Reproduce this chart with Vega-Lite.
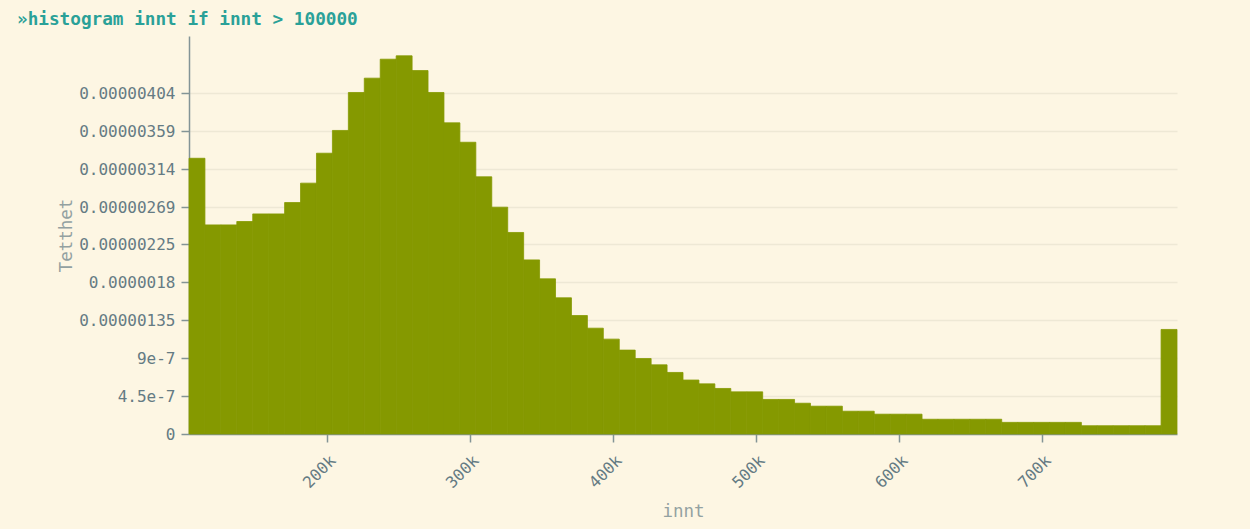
{
  "$schema": "https://vega.github.io/schema/vega-lite/v6.json",
  "autosize": "none",
  "width": 988,
  "height": 398,
  "padding": {"left": 189, "top": 36, "right": 73, "bottom": 95},
  "background": "#fdf6e3",
  "title": {
    "text": "»histogram innt if innt > 100000",
    "anchor": "start",
    "frame": "group",
    "dx": -172,
    "dy": 18,
    "offset": 11,
    "baseline": "alphabetic",
    "font": "DejaVu Sans Mono",
    "fontSize": 17.7,
    "fontWeight": "bold",
    "color": "#2aa198"
  },
  "data": {
    "values": [
      {"start": 103500, "end": 114640, "density": 3.27e-6},
      {"start": 114640, "end": 125780, "density": 2.48e-6},
      {"start": 125780, "end": 136920, "density": 2.48e-6},
      {"start": 136920, "end": 148060, "density": 2.52e-6},
      {"start": 148060, "end": 159200, "density": 2.61e-6},
      {"start": 159200, "end": 170340, "density": 2.61e-6},
      {"start": 170340, "end": 181480, "density": 2.745e-6},
      {"start": 181480, "end": 192620, "density": 2.975e-6},
      {"start": 192620, "end": 203760, "density": 3.33e-6},
      {"start": 203760, "end": 214900, "density": 3.6e-6},
      {"start": 214900, "end": 226040, "density": 4.05e-6},
      {"start": 226040, "end": 237180, "density": 4.22e-6},
      {"start": 237180, "end": 248320, "density": 4.445e-6},
      {"start": 248320, "end": 259460, "density": 4.485e-6},
      {"start": 259460, "end": 270600, "density": 4.31e-6},
      {"start": 270600, "end": 281740, "density": 4.05e-6},
      {"start": 281740, "end": 292880, "density": 3.69e-6},
      {"start": 292880, "end": 304020, "density": 3.46e-6},
      {"start": 304020, "end": 315160, "density": 3.05e-6},
      {"start": 315160, "end": 326300, "density": 2.69e-6},
      {"start": 326300, "end": 337440, "density": 2.39e-6},
      {"start": 337440, "end": 348580, "density": 2.065e-6},
      {"start": 348580, "end": 359720, "density": 1.84e-6},
      {"start": 359720, "end": 370860, "density": 1.615e-6},
      {"start": 370860, "end": 382000, "density": 1.405e-6},
      {"start": 382000, "end": 393140, "density": 1.255e-6},
      {"start": 393140, "end": 404280, "density": 1.125e-6},
      {"start": 404280, "end": 415420, "density": 0.995e-6},
      {"start": 415420, "end": 426560, "density": 0.895e-6},
      {"start": 426560, "end": 437700, "density": 0.82e-6},
      {"start": 437700, "end": 448840, "density": 0.73e-6},
      {"start": 448840, "end": 459980, "density": 0.64e-6},
      {"start": 459980, "end": 471120, "density": 0.595e-6},
      {"start": 471120, "end": 482260, "density": 0.54e-6},
      {"start": 482260, "end": 493400, "density": 0.5e-6},
      {"start": 493400, "end": 504540, "density": 0.5e-6},
      {"start": 504540, "end": 515680, "density": 0.41e-6},
      {"start": 515680, "end": 526820, "density": 0.41e-6},
      {"start": 526820, "end": 537960, "density": 0.365e-6},
      {"start": 537960, "end": 549100, "density": 0.33e-6},
      {"start": 549100, "end": 560240, "density": 0.33e-6},
      {"start": 560240, "end": 571380, "density": 0.27e-6},
      {"start": 571380, "end": 582520, "density": 0.27e-6},
      {"start": 582520, "end": 593660, "density": 0.235e-6},
      {"start": 593660, "end": 604800, "density": 0.235e-6},
      {"start": 604800, "end": 615940, "density": 0.235e-6},
      {"start": 615940, "end": 627080, "density": 0.175e-6},
      {"start": 627080, "end": 638220, "density": 0.175e-6},
      {"start": 638220, "end": 649360, "density": 0.175e-6},
      {"start": 649360, "end": 660500, "density": 0.175e-6},
      {"start": 660500, "end": 671640, "density": 0.175e-6},
      {"start": 671640, "end": 682780, "density": 0.138e-6},
      {"start": 682780, "end": 693920, "density": 0.138e-6},
      {"start": 693920, "end": 705060, "density": 0.138e-6},
      {"start": 705060, "end": 716200, "density": 0.138e-6},
      {"start": 716200, "end": 727340, "density": 0.138e-6},
      {"start": 727340, "end": 738480, "density": 0.098e-6},
      {"start": 738480, "end": 749620, "density": 0.098e-6},
      {"start": 749620, "end": 760760, "density": 0.098e-6},
      {"start": 760760, "end": 771900, "density": 0.098e-6},
      {"start": 771900, "end": 783040, "density": 0.098e-6},
      {"start": 783040, "end": 794180, "density": 1.24e-6}
    ]
  },
  "mark": {"type": "bar", "color": "#859900", "stroke": "#859900", "strokeWidth": 0.8, "cornerRadius": 0},
  "encoding": {
    "x": {
      "field": "start",
      "type": "quantitative",
      "title": "innt",
      "scale": {"domain": [103500, 794180], "nice": false, "zero": false},
      "axis": {
        "values": [200000, 300000, 400000, 500000, 600000, 700000],
        "format": "~s",
        "labelAngle": -45,
        "labelPadding": 10,
        "titlePadding": 12,
        "grid": false
      }
    },
    "x2": {"field": "end"},
    "y": {
      "field": "density",
      "type": "quantitative",
      "title": "Tetthet",
      "scale": {"domain": [0, 4.72e-6], "nice": false},
      "axis": {
        "values": [0, 4.5e-7, 9e-7, 1.35e-6, 1.8e-6, 2.25e-6, 2.69e-6, 3.14e-6, 3.59e-6, 4.04e-6],
        "labelExpr": "'' + datum.value",
        "labelPadding": 6,
        "titlePadding": 3,
        "grid": true
      }
    },
    "y2": {"datum": 0}
  },
  "config": {
    "view": {"stroke": null},
    "axis": {
      "labelFont": "DejaVu Sans Mono",
      "labelFontSize": 16,
      "labelColor": "#657b83",
      "labelFontWeight": "normal",
      "titleFont": "DejaVu Sans Mono",
      "titleFontSize": 17.5,
      "titleFontWeight": "normal",
      "titleColor": "#93a1a1",
      "domainColor": "#839496",
      "domainWidth": 1.5,
      "tickColor": "#839496",
      "tickSize": 8,
      "tickWidth": 1.5,
      "gridColor": "#eee8d5",
      "gridWidth": 1.5
    }
  }
}
